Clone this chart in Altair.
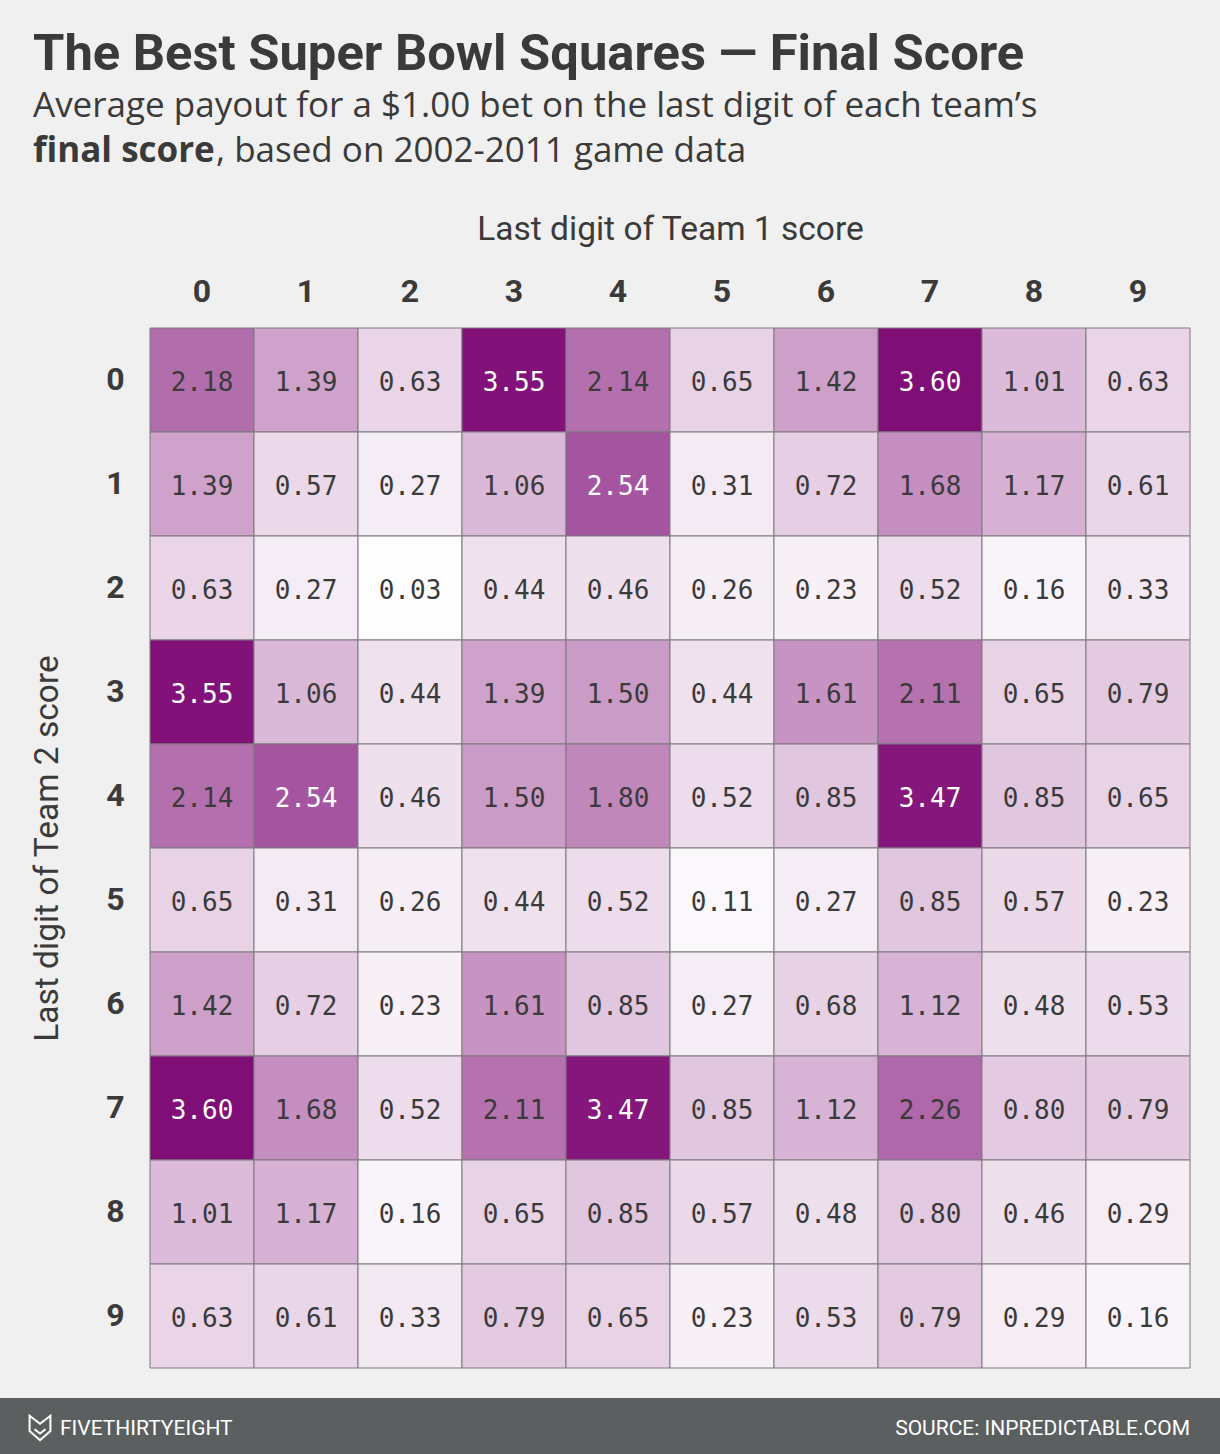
import altair as alt
import pandas as pd

digits = [0, 1, 2, 3, 4, 5, 6, 7, 8, 9]
# rows = last digit of Team 2 score, columns = last digit of Team 1 score
payout = [
    [2.18, 1.39, 0.63, 3.55, 2.14, 0.65, 1.42, 3.60, 1.01, 0.63],
    [1.39, 0.57, 0.27, 1.06, 2.54, 0.31, 0.72, 1.68, 1.17, 0.61],
    [0.63, 0.27, 0.03, 0.44, 0.46, 0.26, 0.23, 0.52, 0.16, 0.33],
    [3.55, 1.06, 0.44, 1.39, 1.50, 0.44, 1.61, 2.11, 0.65, 0.79],
    [2.14, 2.54, 0.46, 1.50, 1.80, 0.52, 0.85, 3.47, 0.85, 0.65],
    [0.65, 0.31, 0.26, 0.44, 0.52, 0.11, 0.27, 0.85, 0.57, 0.23],
    [1.42, 0.72, 0.23, 1.61, 0.85, 0.27, 0.68, 1.12, 0.48, 0.53],
    [3.60, 1.68, 0.52, 2.11, 3.47, 0.85, 1.12, 2.26, 0.80, 0.79],
    [1.01, 1.17, 0.16, 0.65, 0.85, 0.57, 0.48, 0.80, 0.46, 0.29],
    [0.63, 0.61, 0.33, 0.79, 0.65, 0.23, 0.53, 0.79, 0.29, 0.16],
]

title_text = "The Best Super Bowl Squares \u2014 Final Score"
subtitle_line1 = "Average payout for a $1.00 bet on the last digit of each team\u2019s"
subtitle_bold = "final score"
subtitle_rest = ", based on 2002-2011 game data"
x_title = "Last digit of Team 1 score"
y_title = "Last digit of Team 2 score"
footer_left = "FIVETHIRTYEIGHT"
footer_right = "SOURCE: INPREDICTABLE.COM"

rows = []
for r, t2 in enumerate(digits):
    for c, t1 in enumerate(digits):
        rows.append({"team1": t1, "team2": t2, "payout": payout[r][c]})
df = pd.DataFrame(rows)

SANS = "Roboto, 'Liberation Sans', sans-serif"
SUB = "'Open Sans', Roboto, sans-serif"
MONO = "'DejaVu Sans Mono', 'Liberation Mono', monospace"
DARK = "#3a3a3a"

x_enc = alt.X(
    "team1:O",
    scale=alt.Scale(paddingInner=0, paddingOuter=0),
    axis=alt.Axis(
        orient="top", title=x_title, labelAngle=0, ticks=False, domain=False,
        labelFont=SANS, labelFontWeight="bold", labelFontSize=32, labelColor=DARK,
        labelPadding=20, titleFont=SANS, titleFontWeight="normal", titleFontSize=33.5,
        titleColor=DARK, titleX=520, titleY=-99, titleBaseline="middle",
    ),
)
y_enc = alt.Y(
    "team2:O",
    scale=alt.Scale(paddingInner=0, paddingOuter=0),
    axis=alt.Axis(
        title=y_title, ticks=False, domain=False,
        labelFont=SANS, labelFontWeight="bold", labelFontSize=32, labelColor=DARK,
        labelPadding=26, titleFont=SANS, titleFontWeight="normal", titleFontSize=33.5,
        titleColor=DARK, titleX=-103, titleY=520, titleAngle=-90, titleBaseline="middle",
    ),
)

cells = alt.Chart(df).mark_rect(stroke="#7a7a7a", strokeWidth=1).encode(
    x=x_enc,
    y=y_enc,
    color=alt.Color(
        "payout:Q",
        scale=alt.Scale(domain=[0, 3.6], range=["#ffffff", "#800e77"], interpolate="rgb"),
        legend=None,
    ),
)

labels = alt.Chart(df).mark_text(font=MONO, fontSize=26, baseline="middle", dy=3).encode(
    x="team1:O",
    y="team2:O",
    text=alt.Text("payout:Q", format=".2f"),
    color=alt.condition(alt.datum.payout >= 2.5, alt.value("#ffffff"), alt.value(DARK)),
)

one = pd.DataFrame({"k": [0]})

footer_bar = alt.Chart(one).mark_rect(color="#5b5f60").encode(
    x=alt.value(-150), x2=alt.value(1070), y=alt.value(1070), y2=alt.value(1126)
)

logo = alt.Chart(one).mark_point(
    shape="M-0.85,-1 L0,-0.35 L0.85,-1 L0.85,0.25 L0,1 L-0.85,0.25 Z M-0.45,0.1 L0,0.45 L0.45,0.1",
    size=600, filled=False, stroke="#ffffff", strokeWidth=2, opacity=1,
).encode(x=alt.value(-110), y=alt.value(1100))

def txt(text, x, y, size, weight="normal", color=DARK, align="left", font=SANS):
    return alt.Chart(one).mark_text(
        text=text, font=font, fontSize=size, fontWeight=weight, color=color,
        align=align, baseline="alphabetic",
    ).encode(x=alt.value(x), y=alt.value(y))

title = txt(title_text, -117, -258, 50.7, "bold")
sub1 = txt(subtitle_line1, -117, -211, 35, font=SUB)
sub2a = txt(subtitle_bold, -117, -166, 35, "bold", font=SUB)
sub2b = txt(subtitle_rest, 66, -166, 35, font=SUB)
foot_l = txt(footer_left, -90, 1107, 21, color="#ffffff")
foot_r = txt(footer_right, 1040, 1107, 21, color="#ffffff", align="right")

chart = alt.layer(
    footer_bar, logo, cells, labels, title, sub1, sub2a, sub2b, foot_l, foot_r
).properties(
    width=1040, height=1040,
    autosize=alt.AutoSizeParams(type="none"),
    padding={"left": 150, "top": 328, "right": 30, "bottom": 86},
    background="#f0f0f0",
).configure_view(stroke=None)

chart.save("out.html", embed_options={"renderer": "svg", "actions": False})
